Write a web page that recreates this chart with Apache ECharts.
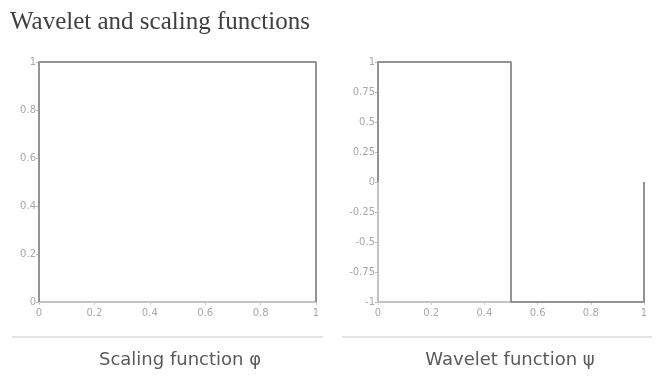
<!DOCTYPE html>
<html><head><meta charset="utf-8">
<script src="https://cdn.jsdelivr.net/npm/echarts@6/dist/echarts.min.js"></script>
<style>html,body{margin:0;padding:0;background:#fff}#c{width:658px;height:376px}</style>
</head><body><div id="c"></div>
<script>
const titleText = 'Wavelet and scaling functions';
const captions = ['Scaling function φ', 'Wavelet function ψ'];
const phiX = [0, 0, 1, 1];
const phiY = [0, 1, 1, 0];
const psiX = [0, 0, 0.5, 0.5, 1, 1];
const psiY = [0, 1, 1, -1, -1, 0];
const phiYTicks = [0, 0.2, 0.4, 0.6, 0.8, 1];
const psiYTicks = [-1, -0.75, -0.5, -0.25, 0, 0.25, 0.5, 0.75, 1];

const chart = echarts.init(document.getElementById('c'));
const axisLabel = {color: '#a8a8a8', fontSize: 10, fontFamily: 'DejaVu Sans'};
const axisLine = {show: true, onZero: false, lineStyle: {color: '#b0b0b0', width: 1.5}};
function xAxis(idx) {
  return {type: 'value', gridIndex: idx, min: 0, max: 1, interval: 0.2,
    axisLine: axisLine, axisTick: {show: true, length: 3, lineStyle: {color: '#ccc'}},
    splitLine: {show: false}, axisLabel: Object.assign({margin: 6}, axisLabel)};
}
function yAxis(idx, mn, mx, iv) {
  return {type: 'value', gridIndex: idx, min: mn, max: mx, interval: iv,
    axisLine: axisLine, axisTick: {show: true, length: 3, lineStyle: {color: '#bbb'}},
    splitLine: {show: false}, axisLabel: Object.assign({margin: 3}, axisLabel)};
}
const lineStyle = {color: '#939393', width: 2};
chart.setOption({
  animation: false,
  grid: [
    {left: 39, top: 62, width: 277, height: 240},
    {left: 378, top: 62, width: 266, height: 240}
  ],
  xAxis: [xAxis(0), xAxis(1)],
  yAxis: [yAxis(0, 0, 1, 0.2), yAxis(1, -1, 1, 0.25)],
  series: [
    {type: 'line', xAxisIndex: 0, yAxisIndex: 0, showSymbol: false, lineStyle: lineStyle,
      data: phiX.map((x, i) => [x, phiY[i]])},
    {type: 'line', xAxisIndex: 1, yAxisIndex: 1, showSymbol: false, lineStyle: lineStyle,
      data: psiX.map((x, i) => [x, psiY[i]])}
  ],
  graphic: [
    {type: 'text', left: 10, top: 10, style: {text: titleText, fill: '#404040', font: '25px "Liberation Serif"'}},
    {type: 'line', shape: {x1: 12, y1: 337, x2: 323, y2: 337}, style: {stroke: '#c8c8c8', lineWidth: 1}},
    {type: 'line', shape: {x1: 342, y1: 337, x2: 652, y2: 337}, style: {stroke: '#c8c8c8', lineWidth: 1}},
    {type: 'text', x: 180, y: 360, style: {text: captions[0], fill: '#5a5a5a', font: '18px "DejaVu Sans"', align: 'center', verticalAlign: 'middle'}},
    {type: 'text', x: 510, y: 360, style: {text: captions[1], fill: '#5a5a5a', font: '18px "DejaVu Sans"', align: 'center', verticalAlign: 'middle'}}
  ]
});
</script></body></html>
